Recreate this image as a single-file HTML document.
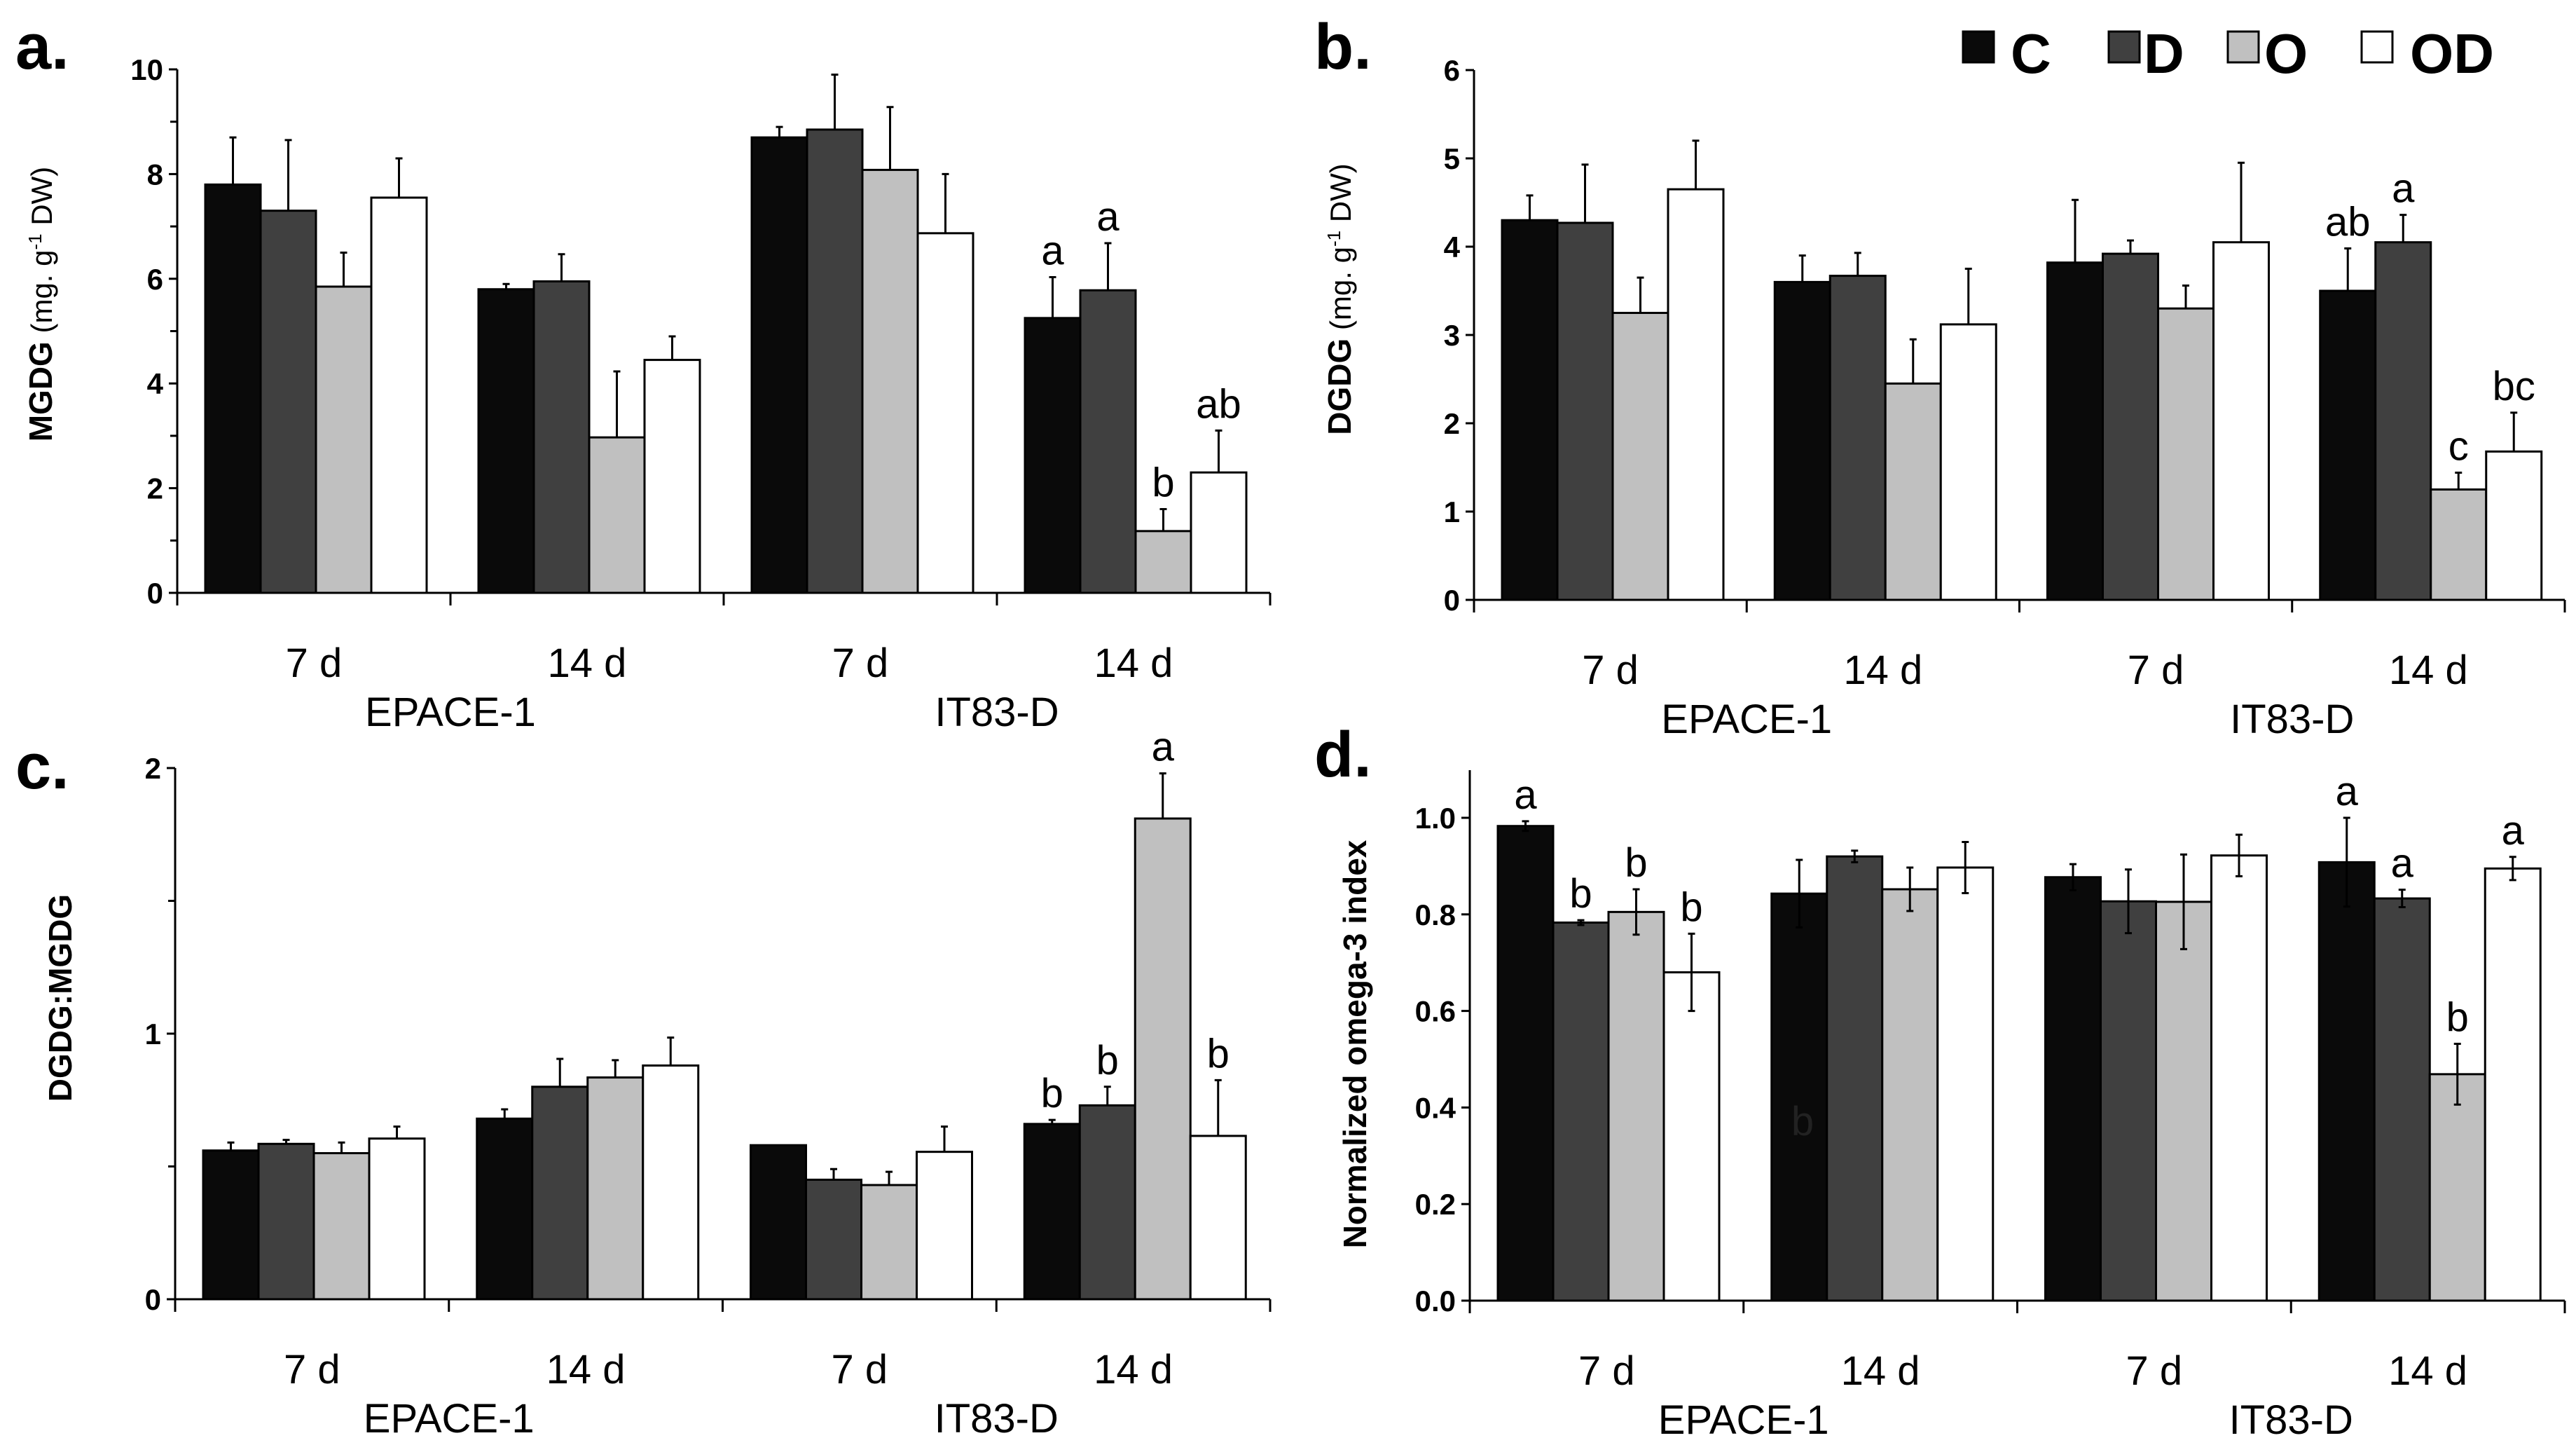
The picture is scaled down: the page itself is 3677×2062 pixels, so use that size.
<!DOCTYPE html>
<html><head><meta charset="utf-8"><style>
html,body{margin:0;padding:0;background:#fff;}
svg{display:block;font-family:"Liberation Sans",sans-serif;}
</style></head><body>
<svg id="fig" width="3677" height="2062" viewBox="0 0 3677 2062" xmlns="http://www.w3.org/2000/svg">
<rect width="3677" height="2062" fill="#fff"/>
<g>
  <rect x="2802" y="45" width="44" height="44" fill="#0a0a0a" stroke="#000" stroke-width="3"/>
  <text x="2870" y="104" font-size="80" font-weight="bold">C</text>
  <rect x="3010" y="45" width="44" height="44" fill="#404040" stroke="#000" stroke-width="3"/>
  <text x="3060" y="104" font-size="80" font-weight="bold">D</text>
  <rect x="3180" y="45" width="44" height="44" fill="#c0c0c0" stroke="#000" stroke-width="3"/>
  <text x="3232" y="104" font-size="80" font-weight="bold">O</text>
  <rect x="3371" y="45" width="44" height="44" fill="#fff" stroke="#000" stroke-width="3"/>
  <text x="3440" y="104" font-size="80" font-weight="bold">OD</text>
</g>
</svg>
<script>
const seriesColors = ["#0a0a0a","#404040","#c0c0c0","#ffffff"];
const dayLabels = ["7 d","14 d","7 d","14 d"];
const cultivarLabels = ["EPACE-1","IT83-D"];

// Panel a: MGDG
const aValues = [[7.8,7.3,5.85,7.55],[5.8,5.95,2.97,4.45],[8.7,8.85,8.08,6.87],[5.25,5.78,1.18,2.3]];
const aErrTop = [[8.7,8.65,6.5,8.3],[5.9,6.47,4.23,4.9],[8.9,9.9,9.28,8.0],[6.03,6.68,1.6,3.1]];
const aLetters = [["","","",""],["","","",""],["","","",""],["a","a","b","ab"]];
const aTicks = [0,2,4,6,8,10];

// Panel b: DGDG
const bValues = [[4.3,4.27,3.25,4.65],[3.6,3.67,2.45,3.12],[3.82,3.92,3.3,4.05],[3.5,4.05,1.25,1.68]];
const bErrTop = [[4.58,4.93,3.65,5.2],[3.9,3.93,2.95,3.75],[4.53,4.07,3.56,4.95],[3.98,4.36,1.44,2.12]];
const bLetters = [["","","",""],["","","",""],["","","",""],["ab","a","c","bc"]];
const bTicks = [0,1,2,3,4,5,6];

// Panel c: DGDG:MGDG
const cValues = [[0.56,0.585,0.55,0.605],[0.68,0.8,0.835,0.88],[0.58,0.45,0.43,0.555],[0.66,0.73,1.81,0.615]];
const cErrTop = [[0.59,0.6,0.59,0.65],[0.715,0.905,0.9,0.985],[0.58,0.49,0.48,0.65],[0.675,0.8,1.98,0.825]];
const cLetters = [["","","",""],["","","",""],["","","",""],["b","b","a","b"]];
const cTicks = [0,1,2];

// Panel d: omega-3 index (symmetric errors)
const dValues = [[0.983,0.783,0.805,0.68],[0.843,0.92,0.852,0.897],[0.877,0.827,0.826,0.922],[0.908,0.833,0.469,0.895]];
const dErr = [[0.01,0.005,0.047,0.08],[0.07,0.012,0.045,0.053],[0.027,0.066,0.098,0.043],[0.092,0.018,0.063,0.024]];
const dLetters = [["a","b","b","b"],["","","",""],["","","",""],["a","a","b","a"]];
const dTicks = ["0.0","0.2","0.4","0.6","0.8","1.0"];

const NS = "http://www.w3.org/2000/svg";
const svg = document.getElementById('fig');
function mk(tag, attrs, parent, text){
  const e = document.createElementNS(NS, tag);
  for (const k in attrs) e.setAttribute(k, attrs[k]);
  if (text !== undefined) e.textContent = text;
  (parent||svg).appendChild(e);
  return e;
}

function panel(cfg){
  const g = mk('g', {});
  
  
  const yS = v => cfg.y0 - (v - cfg.vmin) / (cfg.vmax - cfg.vmin) * (cfg.y0 - cfg.ytop);
  const gw = (cfg.xEnd - cfg.x0) / 4;
  const bw = 79;
  const xB = (gi, si) => cfg.x0 + gi * gw + 40 + si * bw;
  cfg.values.forEach((grp, gi) => grp.forEach((v, si) => {
    const r = mk('rect', {x: xB(gi,si), y: yS(v), width: bw, height: cfg.y0 - yS(v), fill: seriesColors[si], stroke: '#000', 'stroke-width': 3}, g);
    
    
    const cx = xB(gi,si) + bw/2;
    let top;
    if (cfg.errSym) {
      const e = cfg.errSym[gi][si];
      top = yS(v + e);
      const bot = yS(v - e);
      const l = mk('path', {d: `M${cx} ${top}V${bot}M${cx-5} ${top}H${cx+5}M${cx-5} ${bot}H${cx+5}`, stroke: '#000', 'stroke-width': 3, fill: 'none'}, g);
      
      
    } else {
      const et = cfg.errTop[gi][si];
      top = yS(et);
      if (et > v) {
        const l = mk('path', {d: `M${cx} ${top}V${yS(v)}M${cx-5} ${top}H${cx+5}`, stroke: '#000', 'stroke-width': 3, fill: 'none'}, g);
        
        
      }
    }
    const L = cfg.letters[gi][si];
    if (L) {
      const t = mk('text', {x: cx, y: top - 18, 'font-size': 58, 'text-anchor': 'middle'}, g, L);
      
      
    }
  }));
  const ax = mk('path', {d: `M${cfg.x0} ${cfg.axTop}V${cfg.y0}H${cfg.xEnd}`, stroke: '#000', 'stroke-width': 3, fill: 'none'}, g);
  
  
  for (let i = 0; i <= 4; i++) {
    const x = cfg.x0 + i * gw;
    mk('path', {d: `M${x} ${cfg.y0}V${cfg.y0+18}`, stroke: '#000', 'stroke-width': 3}, g);
  }
  cfg.ticks.forEach(tk => {
    const v = parseFloat(tk);
    const y = yS(v);
    mk('path', {d: `M${cfg.x0-12} ${y}H${cfg.x0}`, stroke: '#000', 'stroke-width': 3}, g);
    const t = mk('text', {x: cfg.x0 - 20, y: y + 15, 'font-size': 42, 'font-weight': 'bold', 'text-anchor': 'end'}, g, String(tk));
    
    
  });
  (cfg.minor||[]).forEach(v => {
    const y = yS(v);
    mk('path', {d: `M${cfg.x0-10} ${y}H${cfg.x0}`, stroke: '#000', 'stroke-width': 3}, g);
  });
  dayLabels.forEach((d, i) => {
    const t = mk('text', {x: cfg.x0 + (i + 0.5) * gw, y: cfg.y0 + 120, 'font-size': 58, 'text-anchor': 'middle'}, g, d);
    
    
  });
  cultivarLabels.forEach((c, i) => {
    const t = mk('text', {x: cfg.x0 + (2*i + 1) * gw, y: cfg.y0 + 190, 'font-size': 58, 'text-anchor': 'middle'}, g, c);
    
    
  });
  const pl = mk('text', {x: cfg.labelX, y: cfg.labelY, 'font-size': 92, 'font-weight': 'bold'}, g, cfg.letter);
  
  
  const yt = mk('text', {x: cfg.titleX, y: cfg.titleY, 'text-anchor': 'middle', transform: `rotate(-90 ${cfg.titleX} ${cfg.titleY})`, 'font-size': 46, 'font-weight': 'bold'}, g);
  
  
  yt.innerHTML = cfg.title;
  (cfg.extra||[]).forEach(f => f(g, yS));
}

const unit = '<tspan font-weight="normal" font-size="42"> (mg. g<tspan baseline-shift="super" font-size="26">-1</tspan> DW)</tspan>';

panel({name:'panel-a-mgdg', letter:'a.', labelX:22, labelY:98, x0:253, xEnd:1813, y0:846, ytop:99, axTop:99, vmin:0, vmax:10,
  values:aValues, errTop:aErrTop, letters:aLetters, ticks:aTicks, minor:[1,3,5,7,9],
  title:'MGDG'+unit, titleX:74, titleY:434});
panel({name:'panel-b-dgdg', letter:'b.', labelX:1876, labelY:98, x0:2104, xEnd:3661, y0:856, ytop:100, axTop:100, vmin:0, vmax:6,
  values:bValues, errTop:bErrTop, letters:bLetters, ticks:bTicks,
  title:'DGDG'+unit, titleX:1928, titleY:427});
panel({name:'panel-c-ratio', letter:'c.', labelX:22, labelY:1125, x0:250, xEnd:1813, y0:1854, ytop:1096, axTop:1096, vmin:0, vmax:2,
  values:cValues, errTop:cErrTop, letters:cLetters, ticks:cTicks, minor:[0.5,1.5],
  title:'DGDG:MGDG', titleX:102, titleY:1424});
panel({name:'panel-d-omega3', letter:'d.', labelX:1876, labelY:1108, x0:2098, xEnd:3661, y0:1856, ytop:1167, axTop:1099, vmin:0, vmax:1.0,
  values:dValues, errSym:dErr, letters:dLetters, ticks:dTicks,
  title:'Normalized omega-3 index', titleX:1950, titleY:1490,
  extra:[function(g, yS){
    const t = mk('text', {x: 2573, y: 1620, 'font-size': 58, 'text-anchor': 'middle', fill: '#222'}, g, 'b');
    
    
  }]});
</script>
</body></html>
